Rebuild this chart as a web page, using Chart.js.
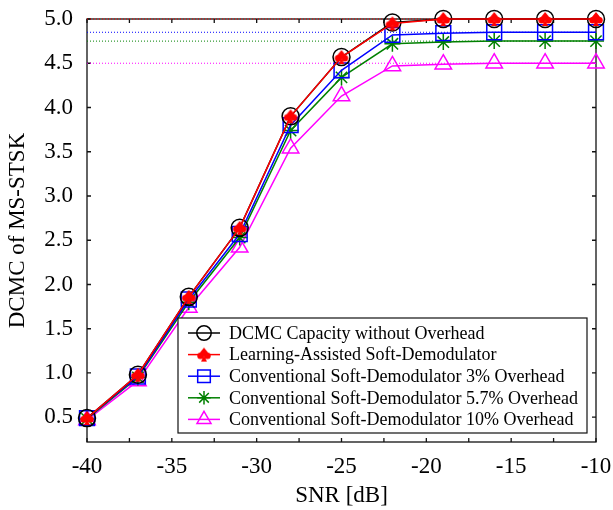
<!DOCTYPE html>
<html>
<head>
<meta charset="utf-8">
<script src="https://cdn.jsdelivr.net/npm/chart.js@4/dist/chart.umd.min.js"></script>
<style>
  html, body { margin: 0; padding: 0; background: #fff; }
</style>
</head>
<body>
<canvas id="chart" width="613" height="510"></canvas>
<script>
// data
const snr = [-40, -37, -34, -31, -28, -25, -22, -19, -16, -13, -10];
const dcmc = [0.49, 0.98, 1.86, 2.64, 3.90, 4.57, 4.96, 5.00, 5.00, 5.00, 5.00];
const learning = [0.49, 0.98, 1.86, 2.64, 3.90, 4.57, 4.95, 5.00, 5.00, 5.00, 5.00];
const conv3 = [0.49, 0.96, 1.83, 2.57, 3.80, 4.42, 4.82, 4.84, 4.85, 4.85, 4.85];
const conv57 = [0.48, 0.95, 1.80, 2.53, 3.74, 4.34, 4.72, 4.74, 4.75, 4.75, 4.75];
const conv10 = [0.47, 0.91, 1.74, 2.42, 3.54, 4.13, 4.47, 4.49, 4.50, 4.50, 4.50];
// dotted reference levels
const levels = [5.0, 4.85, 4.75, 4.5];
const levelColors = ['#ff0000', '#0000ff', '#008000', '#ff00ff'];

const xTicks = [-40, -37.5, -35, -32.5, -30, -27.5, -25, -22.5, -20, -17.5, -15, -12.5, -10];
const yTicks = [0.5, 1.0, 1.5, 2.0, 2.5, 3.0, 3.5, 4.0, 4.5, 5.0];

const labels = [
  'DCMC Capacity without Overhead',
  'Learning-Assisted Soft-Demodulator',
  'Conventional Soft-Demodulator 3% Overhead',
  'Conventional Soft-Demodulator 5.7% Overhead',
  'Conventional Soft-Demodulator 10% Overhead'
];

const FONT = '"Liberation Serif", "Times New Roman", serif';

// red spade marker
function spadeMarker() {
  const c = document.createElement('canvas');
  c.width = 16; c.height = 16;
  const g = c.getContext('2d');
  g.fillStyle = '#ff0000';
  g.beginPath();
  g.moveTo(8, 1);
  g.lineTo(14.5, 9);
  g.lineTo(1.5, 9);
  g.closePath();
  g.fill();
  g.beginPath(); g.arc(4.6, 9.2, 3.3, 0, Math.PI * 2); g.fill();
  g.beginPath(); g.arc(11.4, 9.2, 3.3, 0, Math.PI * 2); g.fill();
  g.beginPath();
  g.moveTo(8, 9); g.lineTo(11, 15); g.lineTo(5, 15); g.closePath();
  g.fill();
  return c;
}
const spade = spadeMarker();

function pts(arr) {
  return snr.map((x, i) => ({ x: x, y: arr[i] }));
}

const series = [
  { label: labels[0], data: pts(dcmc), color: '#000000', style: 'circle', r: 8.5, order: 1 },
  { label: labels[1], data: pts(learning), color: '#ff0000', style: spade, r: 8, order: 0 },
  { label: labels[2], data: pts(conv3), color: '#0000ff', style: 'rect', r: 10.5, order: 2 },
  { label: labels[3], data: pts(conv57), color: '#008000', style: 'star', r: 8, order: 3 },
  { label: labels[4], data: pts(conv10), color: '#ff00ff', style: 'triangle', r: 9.5, order: 4 }
];

const datasets = series.map(s => ({
  label: s.label,
  data: s.data,
  borderColor: s.color,
  backgroundColor: 'rgba(0,0,0,0)',
  borderWidth: 1.5,
  pointStyle: s.style,
  pointRadius: s.r,
  pointBorderColor: s.color,
  pointBackgroundColor: 'rgba(0,0,0,0)',
  pointBorderWidth: 1.5,
  tension: 0,
  clip: false,
  order: s.order
}));

levels.forEach((v, i) => {
  datasets.push({
    label: '',
    data: [{ x: -40, y: v }, { x: -10, y: v }],
    borderColor: levelColors[i],
    borderWidth: 1,
    borderDash: [1, 2],
    pointRadius: 0,
    clip: false,
    order: 10
  });
});

// plot frame with inward ticks
const framePlugin = {
  id: 'frame',
  beforeDatasetsDraw(chart) {
    const { ctx, chartArea: a, scales } = chart;
    ctx.save();
    ctx.strokeStyle = '#111';
    ctx.lineWidth = 1.3;
    ctx.strokeRect(a.left, a.top, a.right - a.left, a.bottom - a.top);
    ctx.beginPath();
    scales.x.ticks.forEach(t => {
      const px = scales.x.getPixelForValue(t.value);
      ctx.moveTo(px, a.bottom); ctx.lineTo(px, a.bottom - 4);
      ctx.moveTo(px, a.top); ctx.lineTo(px, a.top + 4);
    });
    scales.y.ticks.forEach(t => {
      const py = scales.y.getPixelForValue(t.value);
      ctx.moveTo(a.left, py); ctx.lineTo(a.left + 4, py);
      ctx.moveTo(a.right, py); ctx.lineTo(a.right - 4, py);
    });
    ctx.stroke();
    ctx.restore();
  }
};

// legend box at lower right
const legendPlugin = {
  id: 'boxLegend',
  afterDraw(chart) {
    const ctx = chart.ctx;
    const bx = 178, by = 318, bw = 409, bh = 115;
    ctx.save();
    ctx.fillStyle = '#fff';
    ctx.fillRect(bx, by, bw, bh);
    ctx.strokeStyle = '#111';
    ctx.lineWidth = 1.2;
    ctx.strokeRect(bx, by, bw, bh);
    ctx.font = '18px ' + FONT;
    ctx.textBaseline = 'middle';
    series.forEach((s, i) => {
      const cy = by + 15 + i * 21.6;
      ctx.strokeStyle = s.color;
      ctx.lineWidth = 1.5;
      ctx.beginPath();
      ctx.moveTo(188, cy); ctx.lineTo(220, cy);
      ctx.stroke();
      ctx.fillStyle = 'rgba(0,0,0,0)';
      Chart.helpers.drawPoint(ctx, {
        pointStyle: s.style, radius: s.r * 0.85, borderWidth: 1.5, rotation: 0
      }, 204, cy);
      ctx.fillStyle = '#000';
      ctx.fillText(s.label, 229, cy + 1);
    });
    ctx.restore();
  }
};

new Chart(document.getElementById('chart'), {
  type: 'line',
  data: { datasets: datasets },
  options: {
    responsive: false,
    animation: false,
    devicePixelRatio: 1,
    layout: { padding: { top: 19, right: 17, left: 0, bottom: 0 } },
    plugins: { legend: { display: false }, tooltip: { enabled: false } },
    scales: {
      x: {
        type: 'linear',
        min: -40,
        max: -10,
        afterBuildTicks: scale => { scale.ticks = xTicks.map(v => ({ value: v })); },
        afterFit: scale => {
          scale.height = 68;
          scale.paddingLeft = 0;
          scale.paddingRight = 0;
        },
        grid: { display: false, drawTicks: false },
        border: { display: false },
        ticks: {
          autoSkip: false,
          maxRotation: 0,
          padding: 11,
          color: '#000',
          font: { family: FONT, size: 23 },
          callback: v => (v % 5 === 0 ? String(v) : '')
        },
        title: {
          display: true,
          text: 'SNR [dB]',
          color: '#000',
          font: { family: FONT, size: 23 },
          padding: { top: 0, bottom: 0 }
        }
      },
      y: {
        type: 'linear',
        min: 0.22,
        max: 5.0,
        afterBuildTicks: scale => { scale.ticks = yTicks.map(v => ({ value: v })); },
        afterFit: scale => {
          scale.width = 87;
          scale.paddingTop = 0;
          scale.paddingBottom = 0;
        },
        grid: { display: false, drawTicks: false },
        border: { display: false },
        ticks: {
          padding: 14,
          color: '#000',
          font: { family: FONT, size: 23 },
          callback: v => Number(v).toFixed(1)
        },
        title: {
          display: true,
          text: 'DCMC of MS-STSK',
          color: '#000',
          font: { family: FONT, size: 23 },
          padding: { top: 4, bottom: 0 }
        }
      }
    }
  },
  plugins: [framePlugin, legendPlugin]
});
</script>
</body>
</html>
